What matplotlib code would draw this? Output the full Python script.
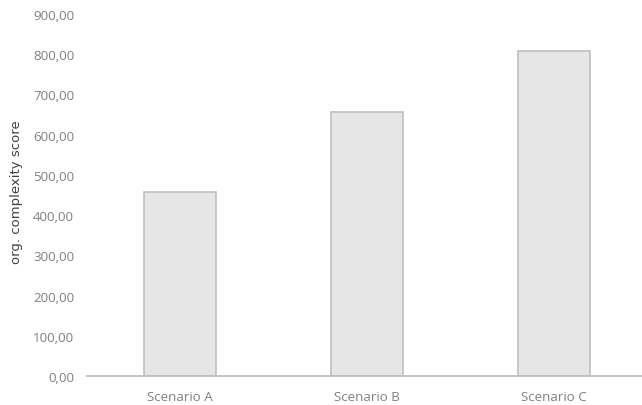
import matplotlib.pyplot as plt
from matplotlib.ticker import FuncFormatter

# Scenario scores
scenarios = ['Scenario A', 'Scenario B', 'Scenario C']
scores = [457, 656, 808]
y_ticks = list(range(0, 901, 100))

fig = plt.figure(figsize=(6.42, 4.06), dpi=100)
ax = fig.add_axes([0.135, 0.0714, 0.865, 0.892])

ax.bar(range(len(scenarios)), scores, width=0.385,
       color='#e6e6e6', edgecolor='#bfbfbf', linewidth=1.2, zorder=2)

ax.set_xlim(-0.5, 2.47)
ax.set_ylim(0, 900)
ax.set_yticks(y_ticks)
ax.yaxis.set_major_formatter(FuncFormatter(lambda v, p: f'{v:.2f}'.replace('.', ',')))
ax.set_xticks(range(len(scenarios)))
ax.set_xticklabels(scenarios)

for s in ['top', 'right', 'left']:
    ax.spines[s].set_visible(False)
ax.spines['bottom'].set_color('#bfbfbf')
ax.spines['bottom'].set_linewidth(1.3)
ax.tick_params(length=0, labelsize=9.6, labelcolor='#808080')
ax.tick_params(axis='x', pad=10)
ax.tick_params(axis='y', pad=9)
for lbl in ax.get_xticklabels() + ax.get_yticklabels():
    lbl.set_family(['Open Sans', 'DejaVu Sans'])

ax.set_ylabel('org. complexity score', fontsize=9.5, color='#404040',
              family=['Liberation Sans Narrow', 'DejaVu Sans'])
ax.yaxis.set_label_coords(-0.115, 0.51)

fig.savefig('out.png')
